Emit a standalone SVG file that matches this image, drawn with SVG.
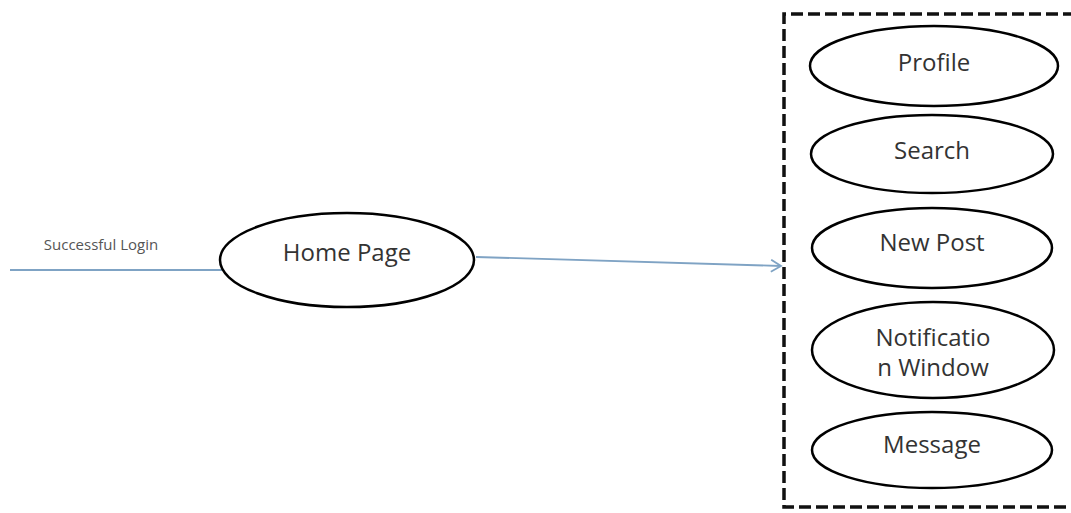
<svg xmlns="http://www.w3.org/2000/svg" width="1071" height="513" viewBox="0 0 1071 513">
<style>
.node ellipse{fill:#fff;stroke:#000;stroke-width:2.5}
.lbl{font-family:"Open Sans","Liberation Sans",sans-serif;font-size:24px;fill:#333;text-anchor:middle}
.conn{stroke:#7fa3c4;stroke-width:1.8;fill:none}
</style>
<defs>
<marker id="arr" markerWidth="14" markerHeight="14" refX="11" refY="7" orient="auto" markerUnits="userSpaceOnUse">
<path d="M1,1 L11,7 L1,13" fill="none" stroke="#7fa3c4" stroke-width="1.8"/>
</marker>
</defs>
<rect width="1071" height="513" fill="#fff"/>
<g id="boundary">
<path d="M1075,14 L784,14 L784,507 L1075,507" fill="none" stroke="#111" stroke-width="3.5" stroke-dasharray="12,5"/>
</g>
<g id="connectors">
<line class="conn" x1="10" y1="270" x2="224" y2="270"/>
<line class="conn" x1="476" y1="257" x2="781" y2="266" marker-end="url(#arr)"/>
<text x="101" y="250" style="font-family:'Open Sans','Liberation Sans',sans-serif;font-size:15px;fill:#555" text-anchor="middle">Successful Login</text>
</g>
<g id="home" class="node">
<ellipse cx="347" cy="260" rx="127" ry="47"/>
<text class="lbl" x="347" y="261">Home Page</text>
</g>
<g id="profile" class="node">
<ellipse cx="934" cy="66" rx="124" ry="40"/>
<text class="lbl" x="934" y="71">Profile</text>
</g>
<g id="search" class="node">
<ellipse cx="932" cy="154" rx="121" ry="39"/>
<text class="lbl" x="932" y="159">Search</text>
</g>
<g id="newpost" class="node">
<ellipse cx="932" cy="248" rx="120" ry="40"/>
<text class="lbl" x="932" y="251">New Post</text>
</g>
<g id="notification" class="node">
<ellipse cx="933" cy="350" rx="121" ry="48"/>
<text class="lbl" x="933" y="346">Notificatio</text>
<text class="lbl" x="933" y="376">n Window</text>
</g>
<g id="message" class="node">
<ellipse cx="932" cy="450" rx="120" ry="38"/>
<text class="lbl" x="932" y="453">Message</text>
</g>
</svg>
